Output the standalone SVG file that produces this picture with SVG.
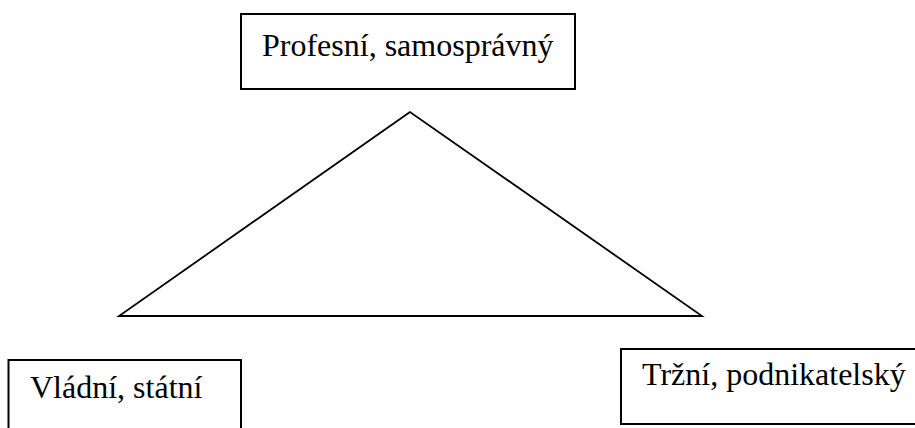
<svg xmlns="http://www.w3.org/2000/svg" width="915" height="428" viewBox="0 0 915 428">
  <style>
    .box { fill: #ffffff; stroke: #000000; stroke-width: 2; }
    .label { font-family: "Liberation Serif", "Times New Roman", serif; font-size: 32px; fill: #000000; }
    .edge { fill: none; stroke: #000000; stroke-width: 1.8; stroke-linejoin: miter; }
  </style>
  <rect x="0" y="0" width="915" height="428" fill="#ffffff"/>
  <g id="connectors">
    <polygon class="edge" points="410,112 119,316 702,316"/>
  </g>
  <g id="node-profesni">
    <rect class="box" x="241" y="14" width="334" height="75"/>
    <text class="label" x="262" y="56">Profesní, samosprávný</text>
  </g>
  <g id="node-vladni">
    <rect class="box" x="8.5" y="360" width="232.5" height="80"/>
    <text class="label" x="30" y="398">Vládní, státní</text>
  </g>
  <g id="node-trzni">
    <rect class="box" x="621" y="349" width="310" height="75"/>
    <text class="label" x="642" y="385">Tržní, podnikatelský</text>
  </g>
</svg>
